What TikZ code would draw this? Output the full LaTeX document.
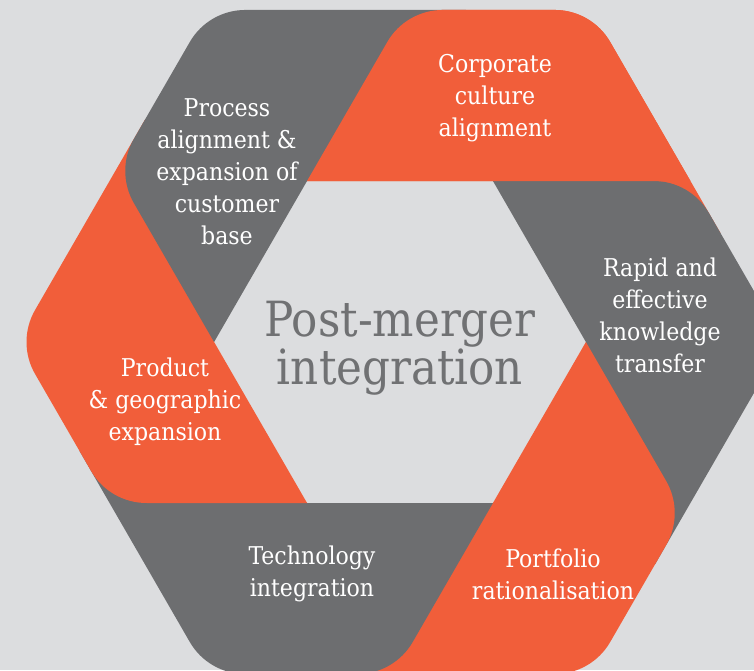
\documentclass[tikz,border=0pt]{standalone}
\usepackage{fontspec}
\setmainfont{DejaVu Serif Condensed}
\usetikzlibrary{calc}
\definecolor{bg}{RGB}{220,221,223}
\definecolor{org}{RGB}{241,94,58}
\definecolor{gry}{RGB}{109,110,112}
\definecolor{ctext}{RGB}{112,113,115}
\begin{document}
\begin{tikzpicture}[x=1pt,y=1pt,
  lbl/.style={text=white, align=center, inner sep=0pt, font=\fontsize{24.5}{32}\selectfont},
  title/.style={text=ctext, align=center, inner sep=0pt, font=\fontsize{48.5}{46}\selectfont}]
\fill[bg] (-400,-328) rectangle (354,342);
\useasboundingbox (-400,-328) rectangle (354,342);
\clip (-400,-328) rectangle (354,342);
\def\Ri{185.9}\def\Ro{383.4}\def\Wd{197.5}
% bands with tongues, each drawn over the previous one
\foreach \p/\c in {60/org,0/gry,-60/org,-120/gry,-180/org,-240/gry}{
  \coordinate (A) at ({\p+60}:\Ri);
  \coordinate (O) at ($({\p+60}:\Ri)+(\p:\Wd)$);
  \coordinate (V) at (\p:\Ro);
  \coordinate (A2) at (\p:\Ri);
  \coordinate (V2) at ({\p-60}:\Ro);
  \coordinate (P) at ($(V)!257.5pt!(V2)$);
  \coordinate (Q) at ($(P)!100pt!(0,0)$);
  \fill[\c] (A) -- ($(O)!37pt!(A)$)
     .. controls ($(O)!14.1pt!(A)$) and ($(O)!14.1pt!(V)$) .. ($(O)!37pt!(V)$)
     -- ($(V)!37pt!(O)$)
     .. controls ($(V)!14.1pt!(O)$) and ($(V)!14.1pt!(P)$) .. ($(V)!37pt!(P)$)
     -- (P) -- (Q) -- (A2) -- cycle;
}
% top band again, without tongue, over the last band's tongue
\coordinate (A) at (120:\Ri);
\coordinate (O) at ($(120:\Ri)+(60:\Wd)$);
\coordinate (V) at (60:\Ro);
\coordinate (A2) at (60:\Ri);
\coordinate (O2) at ($(60:\Ri)+(0:\Wd)$);
\fill[org] (A) -- ($(O)!37pt!(A)$)
   .. controls ($(O)!14.1pt!(A)$) and ($(O)!14.1pt!(V)$) .. ($(O)!37pt!(V)$)
   -- ($(V)!37pt!(O)$)
   .. controls ($(V)!14.1pt!(O)$) and ($(V)!14.1pt!(O2)$) .. ($(V)!37pt!(O2)$)
   -- (O2) -- (A2) -- cycle;
% labels
\node[lbl] (corp) at (95,244) {Corporate\\culture\\alignment};
\node[lbl] (proc) at (-173,170) {Process\\alignment \&\\expansion of\\customer\\base};
\node[lbl] (rapid) at (260,27) {Rapid and\\effective\\knowledge\\transfer};
\node[lbl] (prod) at (-235,-60) {Product\\\& geographic\\expansion};
\node[lbl] (tech) at (-88,-232) {Technology\\integration};
\node[lbl] (port) at (153,-232) {Portfolio\\rationalisation};
\node[title] (pmi) at (0,-6) {Post-merger\\integration};
\end{tikzpicture}
\end{document}
